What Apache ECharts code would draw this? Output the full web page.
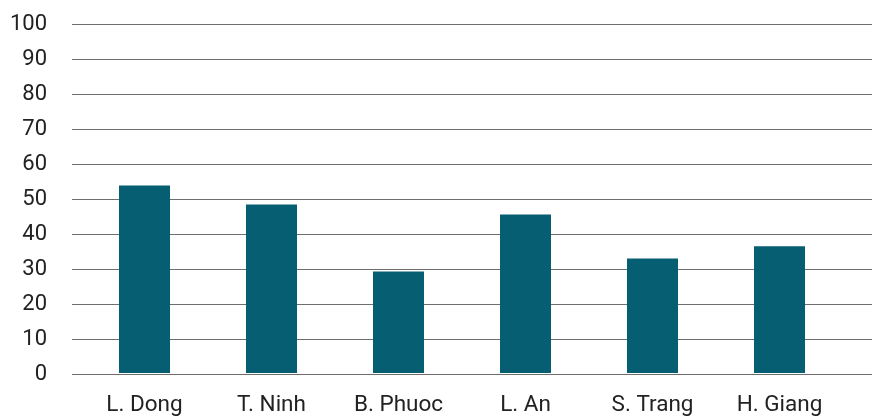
<!DOCTYPE html>
<html>
<head>
<meta charset="utf-8">
<script src="https://cdn.jsdelivr.net/npm/echarts@6/dist/echarts.min.js"></script>
<style>
  html, body { margin: 0; padding: 0; background: #fff; }
  #chart { width: 872px; height: 417px; }
</style>
</head>
<body>
<div id="chart"></div>
<script>
// Provinces and their values
const provinces = ['L. Dong', 'T. Ninh', 'B. Phuoc', 'L. An', 'S. Trang', 'H. Giang'];
const values = [53.7, 48.3, 29.1, 45.4, 32.8, 36.3];
const yTicks = { min: 0, max: 100, step: 10 };

const textColor = '#222222';
const gridColor = '#6e6e6e';
const barColor = '#065e72';
const fontFamily = 'Roboto, "Noto Sans", sans-serif';

const chart = echarts.init(document.getElementById('chart'), null, { renderer: 'canvas' });

chart.setOption({
  animation: false,
  backgroundColor: '#ffffff',
  textStyle: { fontFamily: fontFamily },
  grid: [
    // full-width grid carrying the value axis and horizontal rules
    { left: 72, right: 0, top: 24, bottom: 43 },
    // inner grid holding the bars and category labels
    { left: 81, right: 29, top: 24, bottom: 43 }
  ],
  xAxis: [
    { gridIndex: 0, type: 'value', show: false, min: 0, max: 1 },
    {
      gridIndex: 1,
      type: 'category',
      data: provinces,
      axisLine: { show: false },
      axisTick: { show: false },
      axisLabel: { fontSize: 22.5, color: textColor, margin: 21, fontFamily: fontFamily }
    }
  ],
  yAxis: [
    {
      gridIndex: 0,
      type: 'value',
      min: yTicks.min,
      max: yTicks.max,
      interval: yTicks.step,
      axisLine: { show: false },
      axisTick: { show: false },
      axisLabel: { fontSize: 22, color: textColor, margin: 25, fontFamily: fontFamily },
      splitLine: { show: true, lineStyle: { color: gridColor, width: 1 } }
    },
    {
      gridIndex: 1,
      type: 'value',
      min: yTicks.min,
      max: yTicks.max,
      show: false,
      splitLine: { show: false }
    }
  ],
  series: [
    {
      type: 'bar',
      xAxisIndex: 1,
      yAxisIndex: 1,
      data: values,
      barWidth: 51,
      itemStyle: { color: barColor },
      z: 3
    }
  ]
});
</script>
</body>
</html>
